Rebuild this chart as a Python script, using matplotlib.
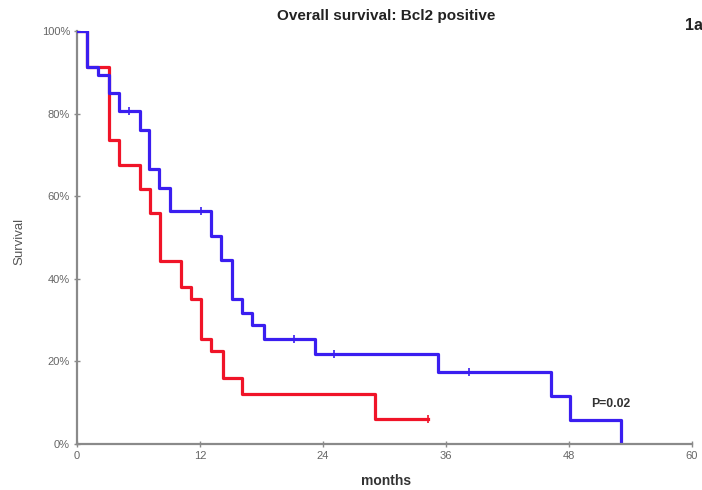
import matplotlib
matplotlib.use("Agg")
import matplotlib.pyplot as plt

plt.rcParams['font.family'] = ['Liberation Sans', 'DejaVu Sans']

# Kaplan-Meier step data (months, survival fraction)
blue_times = [0, 1.0, 2.0, 3.1, 4.1, 6.1, 7.05, 8.0, 9.07, 13.05, 14.0, 15.1, 16.07, 17.1, 18.2, 23.2, 35.25, 46.2, 48.1, 53.1]
blue_surv = [1.0, 0.912, 0.893, 0.851, 0.806, 0.760, 0.667, 0.619, 0.565, 0.504, 0.446, 0.351, 0.318, 0.287, 0.254, 0.218, 0.174, 0.117, 0.057, 0.0]
blue_censor_t = [5.1, 12.1, 21.2, 25.1, 38.2]

red_times = [0, 1.0, 3.15, 4.1, 6.1, 7.1, 8.05, 10.1, 11.1, 12.07, 13.07, 14.2, 16.07, 29.1, 34.2]
red_surv = [1.0, 0.912, 0.736, 0.676, 0.617, 0.559, 0.443, 0.381, 0.352, 0.254, 0.224, 0.161, 0.120, 0.060, 0.060]
red_censor_t = [34.2]

x_ticks = [0, 12, 24, 36, 48, 60]
y_ticks = [0, 0.2, 0.4, 0.6, 0.8, 1.0]
y_tick_labels = ['0%', '20%', '40%', '60%', '80%', '100%']

BLUE = '#3a1ef0'
RED = '#f01428'
AXIS = '#8a8a8a'


def surv_at(times, surv, t):
    val = surv[0]
    for ti, si in zip(times, surv):
        if ti <= t:
            val = si
    return val


fig = plt.figure(figsize=(7.02, 4.90), dpi=100)
ax = fig.add_axes([77 / 702, 1 - 444 / 490, (692 - 77) / 702, (444 - 31) / 490])

ax.step(red_times, red_surv, where='post', color=RED, lw=2.3, zorder=3)
ax.step(blue_times, blue_surv, where='post', color=BLUE, lw=2.3, zorder=4)

for t in red_censor_t:
    ax.plot([t], [surv_at(red_times, red_surv, t)], marker='|', color=RED,
            ms=6, mew=1.2, zorder=5)
for t in blue_censor_t:
    ax.plot([t], [surv_at(blue_times, blue_surv, t)], marker='|', color=BLUE,
            ms=6, mew=1.2, zorder=5)

ax.set_xlim(0, 60)
ax.set_ylim(0, 1.0)
ax.set_xticks(x_ticks)
ax.set_xticklabels([str(v) for v in x_ticks])
ax.set_yticks(y_ticks)
ax.set_yticklabels(y_tick_labels)

for side in ('top', 'right'):
    ax.spines[side].set_visible(False)
for side in ('left', 'bottom'):
    ax.spines[side].set_color(AXIS)
    ax.spines[side].set_linewidth(1.6)
ax.spines['left'].set_zorder(2)
ax.spines['bottom'].set_zorder(6)

ax.tick_params(axis='both', direction='inout', length=4, width=1.0,
               color=AXIS, labelsize=8, labelcolor='#666666')
ax.tick_params(axis='x', pad=3)
ax.tick_params(axis='y', pad=3)

fig.text(386 / 702, 1 - 16 / 490, 'Overall survival: Bcl2 positive',
         ha='center', va='center', fontsize=11, fontweight='bold', color='#222222')
fig.text(685 / 702, 1 - 26 / 490, '1a', ha='left', va='center',
         fontsize=11.5, fontweight='bold', color='#222222')
fig.text(19 / 702, 1 - 241 / 490, 'Survival', rotation=90, ha='center',
         va='center', fontsize=9.5, color='#555555')
fig.text(386 / 702, 1 - 481 / 490, 'months', ha='center', va='center',
         fontsize=10, fontweight='bold', color='#333333')
ax.text(52.1, 0.097, 'P=0.02', ha='center', va='center', fontsize=8.8,
        fontweight='bold', color='#333333')

fig.savefig('out.png', dpi=100)
